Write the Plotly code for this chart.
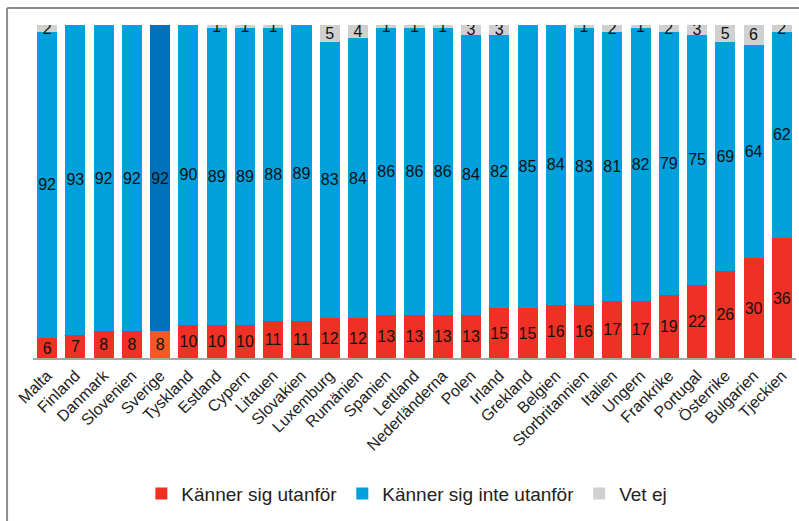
import plotly.graph_objects as go

countries = ["Malta", "Finland", "Danmark", "Slovenien", "Sverige", "Tyskland", "Estland", "Cypern",
             "Litauen", "Slovakien", "Luxemburg", "Rumänien", "Spanien", "Lettland", "Nederländerna",
             "Polen", "Irland", "Grekland", "Belgien", "Storbritannien", "Italien", "Ungern",
             "Frankrike", "Portugal", "Österrike", "Bulgarien", "Tjeckien"]
utanfor = [6, 7, 8, 8, 8, 10, 10, 10, 11, 11, 12, 12, 13, 13, 13, 13, 15, 15, 16, 16, 17, 17, 19, 22, 26, 30, 36]
inte_utanfor = [92, 93, 92, 92, 92, 90, 89, 89, 88, 89, 83, 84, 86, 86, 86, 84, 82, 85, 84, 83, 81, 82, 79, 75, 69, 64, 62]
vet_ej = [2, 0, 0, 0, 0, 0, 1, 1, 1, 0, 5, 4, 1, 1, 1, 3, 3, 0, 0, 1, 2, 1, 2, 3, 5, 6, 2]

highlight = "Sverige"
red = ["#F15A24" if c == highlight else "#EE3124" for c in countries]
blue = ["#0072BC" if c == highlight else "#00A0DC" for c in countries]


def labels(vals):
    return [str(v) if v else "" for v in vals]


fig = go.Figure()
for name, vals, col in [("Känner sig utanför", utanfor, red),
                        ("Känner sig inte utanför", inte_utanfor, blue),
                        ("Vet ej", vet_ej, "#D0D0D0")]:
    fig.add_trace(go.Bar(x=countries, y=vals, name=name, marker_color=col,
                         marker_line_width=0, text=labels(vals),
                         textposition="inside", insidetextanchor="middle",
                         constraintext="none", textangle=0,
                         textfont=dict(color="#111111", size=16, family="Liberation Sans")))

lc = "#8C8C8C"
fig.add_shape(type="line", xref="paper", yref="paper", x0=-0.034, x1=-0.034, y0=-0.5, y1=1.051,
              line=dict(color=lc, width=2))
fig.add_shape(type="line", xref="paper", yref="paper", x0=-0.034, x1=1.01, y0=1.051, y1=1.051,
              line=dict(color=lc, width=2))

fig.update_layout(
    width=799, height=521,
    barmode="stack", bargap=0.29,
    margin=dict(l=33, r=3, t=25, b=163),
    plot_bgcolor="white", paper_bgcolor="white",
    font=dict(family="Liberation Sans", color="#222222"),
    xaxis=dict(tickangle=-45, tickfont=dict(size=16), showline=True, linecolor="#A6A6A6",
               linewidth=2, ticks="", showgrid=False),
    yaxis=dict(range=[0, 100], visible=False),
    legend=dict(orientation="h", x=0.49, xanchor="center", y=-0.35, yanchor="top",
                font=dict(size=19), traceorder="normal", itemwidth=30),
)

fig.write_html("out.html", config={"displayModeBar": False},
               post_script="document.body.style.margin='0';")
